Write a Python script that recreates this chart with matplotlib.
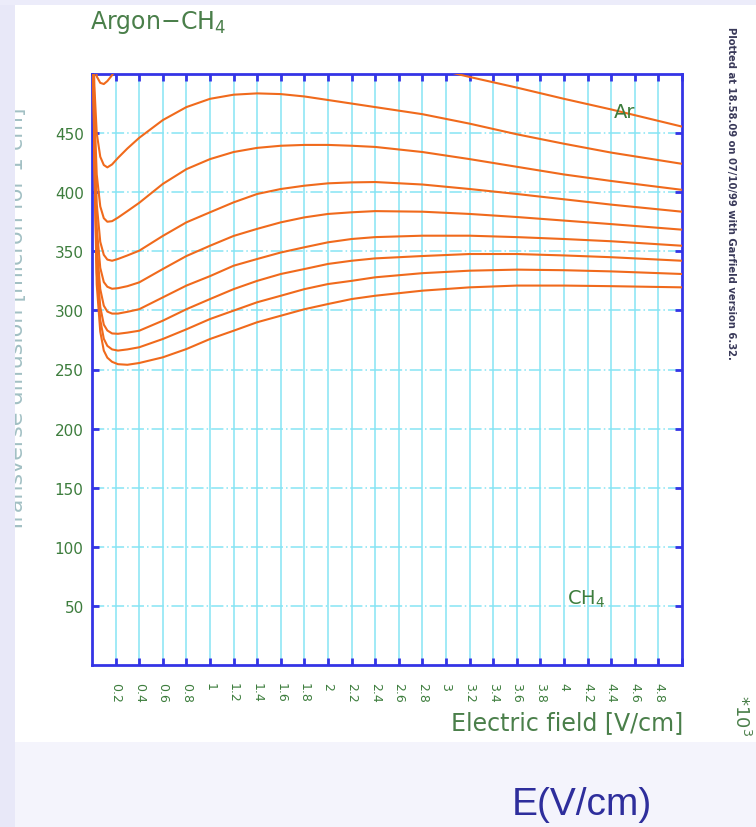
import numpy as np
import matplotlib
matplotlib.use("Agg")
import matplotlib.pyplot as plt
from matplotlib.patches import Rectangle

# Electric field in units of 10^3 V/cm
field = [0.0, 0.02, 0.04, 0.07, 0.1, 0.13, 0.17, 0.22, 0.3, 0.4, 0.6, 0.8, 1.0,
         1.2, 1.4, 1.6, 1.8, 2.0, 2.2, 2.4, 2.8, 3.2, 3.6, 4.0, 4.4, 5.0]

# Transverse diffusion [micron for 1 cm], from pure Ar (top) to CH4-rich (bottom)
diff_ar = [600, 520, 498, 492.5, 491.5, 494, 499, 507, 520, 530, 545, 550, 552,
           550, 547, 543, 538, 532, 525, 518, 507, 497.5, 488.5, 479, 470, 455.5]
diff_b = [600, 490, 450, 430, 423, 421, 423.5, 429, 437, 446, 461, 472, 479,
          482.5, 483.6, 483, 481, 478, 475, 472, 466, 458, 449, 441, 433.5, 424]
diff_c = [600, 470, 415, 388, 378, 375, 375.5, 378.5, 384, 391, 407, 419.5, 428,
          434, 437.5, 439.3, 440, 440, 439.3, 438.3, 434, 428, 421.5, 415, 409.5, 402]
diff_d = [600, 455, 390, 358, 347, 343, 342, 343.5, 346.5, 350.5, 363, 374.5, 383,
          391.4, 398.5, 402.7, 405.5, 407.5, 408.3, 408.6, 406.5, 402.7, 398.5, 394,
          389.5, 383.5]
diff_e = [600, 445, 370, 336, 324, 320, 318.3, 318.8, 320.5, 323.7, 335, 346, 354.7,
          363, 369, 374.5, 378.7, 381.6, 383, 384, 383.5, 381.6, 379, 376, 373, 368.3]
diff_f = [600, 440, 355, 318, 304, 299, 297.3, 297.3, 298.8, 301, 311, 321, 329,
          337.8, 343.5, 349, 353.4, 357.6, 360.4, 362, 363.2, 363.2, 362, 360.4,
          358.5, 354.7]
diff_g = [600, 435, 342, 303, 288, 283, 280.5, 280.2, 281.2, 282.8, 291.3, 301,
          309.6, 318, 325, 330.8, 335, 339.3, 342, 344, 346, 347.7, 347.7, 346.5,
          345, 342]
diff_h = [600, 430, 332, 292, 276, 270, 267, 266, 267, 268.8, 275.8, 284, 292.7,
          299.8, 306.9, 312.4, 318, 322.3, 325, 328, 331.5, 333.6, 334.5, 334, 333,
          330.8]
diff_i = [600, 425, 322, 282, 266, 260, 256.5, 254.5, 254, 255.5, 260.3, 267.3,
          275.8, 282.8, 290, 295.5, 301, 305.4, 309.6, 312.4, 316.7, 319.5, 321, 321,
          320.5, 319.5]

curves = [diff_ar, diff_b, diff_c, diff_d, diff_e, diff_f, diff_g, diff_h, diff_i]

x_ticks = [0.2, 0.4, 0.6, 0.8, 1, 1.2, 1.4, 1.6, 1.8, 2, 2.2, 2.4, 2.6, 2.8, 3,
           3.2, 3.4, 3.6, 3.8, 4, 4.2, 4.4, 4.6, 4.8]
y_ticks = [50, 100, 150, 200, 250, 300, 350, 400, 450]

W, H = 756, 828
fig = plt.figure(figsize=(W / 100, H / 100), dpi=100, facecolor="#f4f4fc")

def fx(px):
    return px / W

def fy(py):
    return 1 - py / H

# page background pieces
fig.add_artist(Rectangle((fx(15), fy(743)), 1 - fx(15), fy(6) - fy(743),
                         transform=fig.transFigure, facecolor="white",
                         edgecolor="none", zorder=-2))
fig.add_artist(Rectangle((0, 0), fx(15), 1, transform=fig.transFigure,
                         facecolor="#e8e8f8", edgecolor="none", zorder=3))
fig.add_artist(Rectangle((0, fy(6)), 1, 1 - fy(6), transform=fig.transFigure,
                         facecolor="#ececfa", edgecolor="none", zorder=3))

ax = fig.add_axes([fx(92), fy(666), fx(682) - fx(92), fy(75) - fy(666)])
ax.set_facecolor("white")

orange = "#f06a1c"
for vals in curves:
    ax.plot(field, vals, color=orange, lw=1.5, solid_joinstyle="round",
            solid_capstyle="round", clip_on=True, zorder=3)

ax.set_xlim(0, 5.0)
ax.set_ylim(0, 500)

grid_c = "#86e4f4"
ax.set_xticks(x_ticks + [5.0])
ax.set_xticklabels(["%g" % t for t in x_ticks] + [""])
ax.set_yticks(y_ticks)
for t in x_ticks:
    ax.axvline(t, color=grid_c, lw=1.1, zorder=1)
for t in y_ticks:
    ax.axhline(t, color=grid_c, lw=1.1, ls=(0, (8, 2, 1, 2)), zorder=1)

blue = "#3434e6"
for s in ax.spines.values():
    s.set_color(blue)
    s.set_linewidth(2)

lab_c = "#3d7d3d"
ax.tick_params(axis="both", direction="in", color=blue, width=2, length=5,
               top=True, right=True, labelcolor=lab_c)
ax.tick_params(axis="x", labelsize=9, labelrotation=-90, pad=12)
ax.tick_params(axis="y", labelsize=11, pad=6)
for lbl in ax.get_xticklabels():
    lbl.set_va("top")

ax.text(4.51, 468, "Ar", color=lab_c, fontsize=14, ha="center", va="center",
        zorder=4)
ax.text(4.19, 56, "CH$_4$", color=lab_c, fontsize=14, ha="center",
        va="center", zorder=4)

fig.text(fx(90), fy(22), "Argon\u2212CH$_4$", color="#4a7f4a", fontsize=17,
         ha="left", va="center")
fig.text(fx(683), fy(723), "Electric field [V/cm]", color="#4a7f4a",
         fontsize=17, ha="right", va="center")
fig.text(fx(741), fy(716), "*10$^3$", color="#4a7f4a", fontsize=13,
         rotation=-90, ha="center", va="center")
fig.text(fx(17), fy(320), "Transverse diffusion [micron for 1 cm]",
         color="#a2c0c4", fontsize=16, rotation=90, ha="center", va="center",
         zorder=1)
fig.text(fx(731), fy(193),
         "Plotted at 18.58.09 on 07/10/99 with Garfield version 6.32.",
         color="#3a3a5a", fontsize=7.2, rotation=-90, ha="center",
         va="center", fontweight="bold")
fig.text(fx(582), fy(805), "E(V/cm)", color="#2e2e9c", fontsize=28,
         family="Liberation Sans", ha="center", va="center")

fig.savefig("out.png", dpi=100, facecolor=fig.get_facecolor())
